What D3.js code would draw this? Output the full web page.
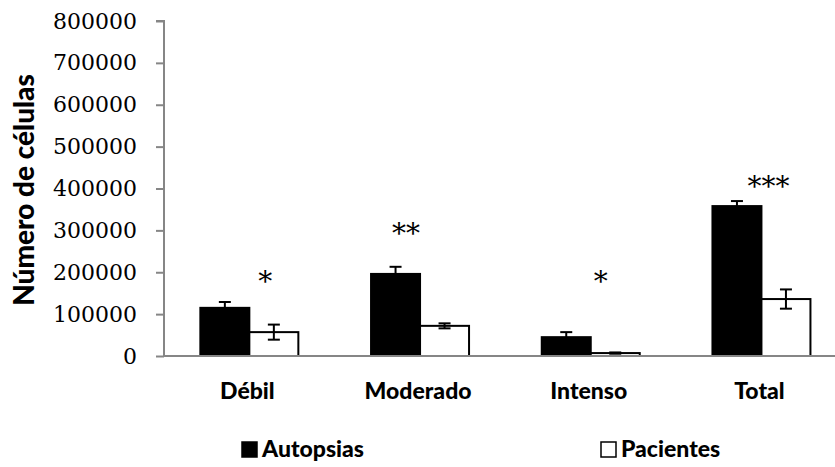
<!DOCTYPE html>
<html>
<head>
<meta charset="utf-8">
<script src="https://cdn.jsdelivr.net/npm/d3@7"></script>
<style>
  body { margin: 0; background: #fff; }
  .tick text { font-family: "DejaVu Serif", serif; }
</style>
</head>
<body>
<div id="chart"></div>
<script>
const categories = ["Débil", "Moderado", "Intenso", "Total"];
const series = ["Autopsias", "Pacientes"];
const autopsias = [115000, 196000, 45000, 358000];
const autopsiasErr = [14000, 17000, 12000, 12000];
const pacientes = [57000, 72000, 7000, 136000];
const pacientesErr = [18000, 6000, 1500, 23000];
const stars = ["*", "**", "*", "***"];
const starLevel = [188000, 303000, 188000, 415000];
const yTicks = [0, 100000, 200000, 300000, 400000, 500000, 600000, 700000, 800000];

const width = 835, height = 467;
const plotLeft = 164, plotTop = 21, plotBottom = 356;

const svg = d3.select("#chart").append("svg")
  .attr("width", width)
  .attr("height", height);

const x = d3.scaleBand().domain(categories).range([plotLeft, plotLeft + 4 * 170.7]).padding(0);
const x1 = d3.scaleBand().domain(series).range([0, x.bandwidth()]).paddingInner(0).paddingOuter(0.742);
const y = d3.scaleLinear().domain([0, 800000]).range([plotBottom, plotTop]);

const rows = categories.map((c, i) => ({
  cat: c,
  bars: [
    { s: "Autopsias", v: autopsias[i], e: autopsiasErr[i] },
    { s: "Pacientes", v: pacientes[i], e: pacientesErr[i] }
  ]
}));

const groups = svg.selectAll(".grp").data(rows).enter().append("g")
  .attr("transform", d => `translate(${x(d.cat)},0)`);

groups.selectAll("rect").data(d => d.bars).enter().append("rect")
  .attr("x", d => x1(d.s))
  .attr("y", d => y(d.v))
  .attr("width", x1.bandwidth())
  .attr("height", d => y(0) - y(d.v))
  .attr("fill", d => d.s === "Autopsias" ? "#000" : "#fff")
  .attr("stroke", "#000")
  .attr("stroke-width", 2);

// error bars
const eb = groups.selectAll(".err").data(d => d.bars).enter().append("g")
  .attr("stroke", "#000").attr("stroke-width", 2);
eb.append("line")
  .attr("x1", d => x1(d.s) + x1.bandwidth() / 2)
  .attr("x2", d => x1(d.s) + x1.bandwidth() / 2)
  .attr("y1", d => y(d.v + d.e))
  .attr("y2", d => y(d.v - d.e));
eb.append("line")
  .attr("x1", d => x1(d.s) + x1.bandwidth() / 2 - 6)
  .attr("x2", d => x1(d.s) + x1.bandwidth() / 2 + 6)
  .attr("y1", d => y(d.v + d.e))
  .attr("y2", d => y(d.v + d.e));
eb.append("line")
  .attr("x1", d => x1(d.s) + x1.bandwidth() / 2 - 6)
  .attr("x2", d => x1(d.s) + x1.bandwidth() / 2 + 6)
  .attr("y1", d => y(d.v - d.e))
  .attr("y2", d => y(d.v - d.e));

// significance marks
const starShift = [16, -14, 10, 7];
svg.selectAll(".star").data(categories).enter().append("text")
  .attr("x", (d, i) => x(d) + x.bandwidth() / 2 + starShift[i])
  .attr("y", (d, i) => y(starLevel[i]) + 14)
  .attr("text-anchor", "middle")
  .style("font-family", "DejaVu Serif, serif")
  .style("font-size", "28px")
  .text((d, i) => stars[i]);

// y axis
const yAxis = svg.append("g")
  .attr("transform", `translate(${plotLeft},0)`)
  .call(d3.axisLeft(y).tickValues(yTicks).tickFormat(d3.format("d")).tickSize(8).tickPadding(19));
yAxis.selectAll("line, path").attr("stroke", "#868686").attr("stroke-width", 2);
yAxis.selectAll("text").style("font-size", "22px").attr("fill", "#000");
yAxis.select(".domain").attr("d", `M-8,${plotTop}H0V${plotBottom}`);

// x axis
svg.append("line")
  .attr("x1", plotLeft).attr("x2", width)
  .attr("y1", plotBottom).attr("y2", plotBottom)
  .attr("stroke", "#868686").attr("stroke-width", 2);

svg.selectAll(".cat").data(categories).enter().append("text")
  .attr("x", d => x(d) + x.bandwidth() / 2 - 2)
  .attr("y", 399)
  .attr("text-anchor", "middle")
  .style("font-family", "Lato, sans-serif")
  .style("font-weight", "900")
  .style("font-size", "23px")
  .text(d => d);

// y title
svg.append("text")
  .attr("transform", "translate(34,190) rotate(-90)")
  .attr("text-anchor", "middle")
  .style("font-family", "Lato, sans-serif")
  .style("font-weight", "900")
  .style("font-size", "28px")
  .text("Número de células");

// legend
const legendX = [241, 600];
const lg = svg.selectAll(".leg").data(series).enter().append("g")
  .attr("transform", (d, i) => `translate(${legendX[i]},0)`);
lg.append("rect")
  .attr("x", 1).attr("y", 442).attr("width", 15).attr("height", 15)
  .attr("fill", (d, i) => i === 0 ? "#000" : "#fff")
  .attr("stroke", "#000").attr("stroke-width", 1.5);
lg.append("text")
  .attr("x", 21).attr("y", 457)
  .style("font-family", "Lato, sans-serif")
  .style("font-weight", "900")
  .style("font-size", "23px")
  .text(d => d);
</script>
</body>
</html>
